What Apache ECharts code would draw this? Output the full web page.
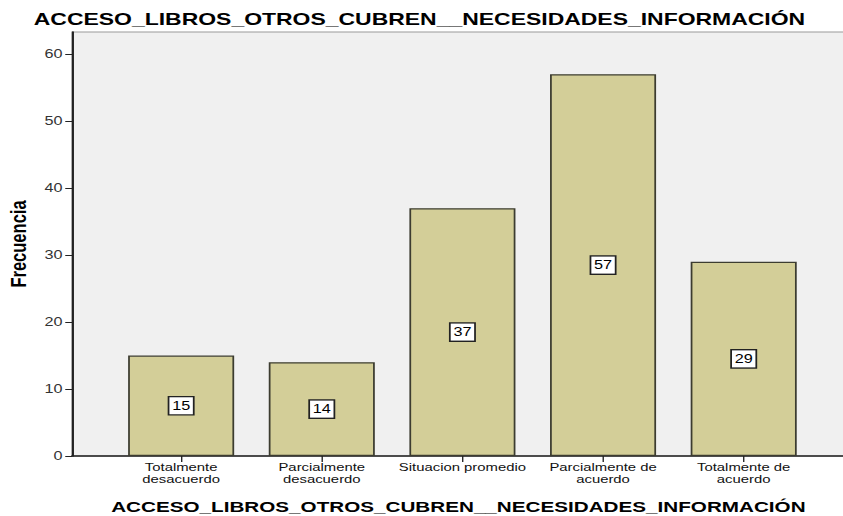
<!DOCTYPE html>
<html>
<head>
<meta charset="utf-8">
<script src="https://cdn.jsdelivr.net/npm/echarts@6/dist/echarts.min.js"></script>
<style>
  html, body { margin: 0; padding: 0; background: #fff; overflow: hidden; }
  /* the reference is stretched sideways, so the chart is drawn narrow and widened */
  #chart { width: 624px; height: 516px; transform: scaleX(1.351); transform-origin: 0 0; }
</style>
</head>
<body>
<div id="chart"></div>
<script>
const titleText = 'ACCESO_LIBROS_OTROS_CUBREN__NECESIDADES_INFORMACIÓN';
const categories = [
  'Totalmente\ndesacuerdo',
  'Parcialmente\ndesacuerdo',
  'Situacion promedio',
  'Parcialmente de\nacuerdo',
  'Totalmente de\nacuerdo'
];
const frecuencia = [15, 14, 37, 57, 29];
const yTicks = [0, 10, 20, 30, 40, 50, 60];

const font = 'Liberation Sans, Arial, sans-serif';
const positions = categories.map((c, i) => i);

const chart = echarts.init(document.getElementById('chart'), null, { renderer: 'svg' });
chart.setOption({
  animation: false,
  backgroundColor: '#fff',
  textStyle: { fontFamily: font },
  title: {
    text: titleText,
    left: 20,
    top: 6,
    textStyle: { fontSize: 17, fontWeight: 'bold', color: '#000', fontFamily: font }
  },
  grid: {
    left: 53.3, top: 32, width: 572, height: 424,
    outerBoundsMode: 'none',
    show: true, backgroundColor: '#f0f0f0', borderColor: '#999', borderWidth: 1
  },
  xAxis: {
    type: 'value',
    min: -0.776,
    max: -0.776 + 572 / 104.1,
    name: titleText,
    nameLocation: 'middle',
    nameGap: 43,
    nameTextStyle: { fontSize: 15.3, fontWeight: 'bold', color: '#000' },
    axisLine: { show: true, lineStyle: { color: '#222', width: 1.5 } },
    splitLine: { show: false },
    axisTick: { show: true, customValues: positions, length: 6, lineStyle: { color: '#222' } },
    axisLabel: {
      customValues: positions,
      formatter: v => categories[Math.round(v)],
      fontSize: 11, color: '#111', lineHeight: 12, margin: 5
    }
  },
  yAxis: {
    type: 'value',
    min: 0,
    max: 63.3,
    interval: 10,
    name: 'Frecuencia',
    nameLocation: 'middle',
    nameGap: 29,
    nameTextStyle: {
      fontSize: 16.5, fontWeight: 'bold', color: '#000',
      fontFamily: 'Liberation Sans Narrow, Arial Narrow, Liberation Sans, sans-serif'
    },
    axisLine: { show: true, onZero: false, lineStyle: { color: '#222', width: 1.5 } },
    axisTick: { show: true, customValues: yTicks, length: 5, lineStyle: { color: '#222' } },
    axisLabel: { customValues: yTicks, fontSize: 12, color: '#333', margin: 7 },
    splitLine: { show: false }
  },
  series: [{
    type: 'bar',
    barWidth: 78.5,
    data: frecuencia.map((v, i) => [i, v]),
    itemStyle: { color: '#d3ce98', borderColor: '#3c3c30', borderWidth: 1.3 },
    label: {
      show: true,
      position: 'inside',
      color: '#000',
      fontSize: 12,
      backgroundColor: '#fff',
      borderColor: '#222',
      borderWidth: 1.3,
      padding: [3, 2, 2, 2]
    }
  }]
});
</script>
</body>
</html>
